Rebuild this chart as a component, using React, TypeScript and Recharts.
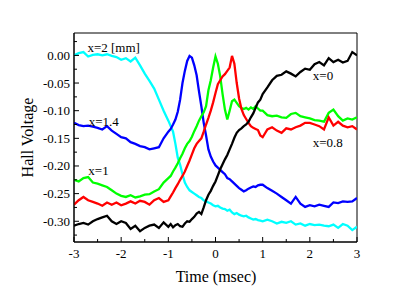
import React from 'react';
import { LineChart, Line, XAxis, YAxis, ReferenceArea, ReferenceDot } from 'recharts';

const FONT = 'Liberation Serif, Times New Roman, serif';

const times = [
  -3.0, -2.9, -2.8, -2.7, -2.6, -2.5, -2.4, -2.3, -2.2, -2.1,
  -2.0, -1.9, -1.8, -1.7, -1.6, -1.5, -1.4, -1.3, -1.2, -1.1,
  -1.0, -0.95, -0.9, -0.85, -0.8, -0.75, -0.7, -0.65, -0.6, -0.55,
  -0.5, -0.45, -0.4, -0.35, -0.3, -0.25, -0.2, -0.15, -0.1, -0.05,
  0.0, 0.05, 0.1, 0.15, 0.2, 0.25, 0.3, 0.35, 0.4, 0.45,
  0.5, 0.55, 0.6, 0.65, 0.7, 0.75, 0.8, 0.85, 0.9, 0.95,
  1.0, 1.1, 1.2, 1.3, 1.4, 1.5, 1.6, 1.7, 1.8, 1.9,
  2.0, 2.1, 2.2, 2.3, 2.4, 2.5, 2.6, 2.7, 2.8, 2.9, 3.0,
];

// x = 2 [mm]
const cyan = [
  0.000, 0.004, 0.006, -0.002, 0.001, 0.002, 0.000, 0.002, -0.001, -0.003,
  -0.008, -0.005, -0.011, -0.004, -0.018, -0.033, -0.046, -0.060, -0.080, -0.100,
  -0.118, -0.128, -0.138, -0.160, -0.185, -0.198, -0.215, -0.230, -0.238, -0.244,
  -0.247, -0.250, -0.253, -0.256, -0.258, -0.262, -0.264, -0.266, -0.268, -0.271,
  -0.273, -0.272, -0.275, -0.277, -0.278, -0.281, -0.279, -0.284, -0.287, -0.285,
  -0.288, -0.290, -0.291, -0.290, -0.293, -0.295, -0.297, -0.296, -0.298, -0.299,
  -0.300, -0.297, -0.300, -0.304, -0.301, -0.303, -0.300, -0.306, -0.304, -0.308,
  -0.305, -0.307, -0.306, -0.308, -0.309, -0.306, -0.312, -0.305, -0.308, -0.316, -0.310,
];

// x = 1.4
const blue = [
  -0.122, -0.126, -0.128, -0.127, -0.129, -0.131, -0.134, -0.128, -0.136, -0.142,
  -0.148, -0.150, -0.157, -0.160, -0.164, -0.166, -0.170, -0.168, -0.166, -0.150,
  -0.138, -0.133, -0.125, -0.116, -0.102, -0.080, -0.050, -0.028, -0.010, -0.001,
  -0.004, -0.018, -0.036, -0.065, -0.092, -0.122, -0.145, -0.170, -0.183, -0.192,
  -0.199, -0.203, -0.207, -0.211, -0.215, -0.222, -0.224, -0.228, -0.232, -0.236,
  -0.240, -0.243, -0.246, -0.244, -0.241, -0.239, -0.237, -0.238, -0.235, -0.234,
  -0.234, -0.240, -0.245, -0.250, -0.256, -0.262, -0.268, -0.256, -0.268, -0.274,
  -0.271, -0.273, -0.270, -0.272, -0.274, -0.266, -0.267, -0.264, -0.265, -0.264, -0.258,
];

// x = 1
const green = [
  -0.225, -0.228, -0.222, -0.220, -0.230, -0.232, -0.235, -0.238, -0.244, -0.250,
  -0.254, -0.256, -0.253, -0.257, -0.255, -0.252, -0.251, -0.246, -0.242, -0.230,
  -0.222, -0.218, -0.210, -0.203, -0.195, -0.186, -0.178, -0.168, -0.160, -0.155,
  -0.147, -0.137, -0.128, -0.118, -0.110, -0.103, -0.092, -0.063, -0.045, -0.022,
  -0.002, -0.015, -0.038, -0.070, -0.098, -0.116, -0.100, -0.083, -0.080, -0.086,
  -0.092, -0.095, -0.097, -0.095, -0.098, -0.094, -0.097, -0.092, -0.096, -0.100,
  -0.100, -0.108, -0.110, -0.109, -0.112, -0.113, -0.106, -0.104, -0.110, -0.112,
  -0.114, -0.117, -0.118, -0.120, -0.104, -0.098, -0.110, -0.118, -0.114, -0.116, -0.112,
];

// x = 0.8
const red = [
  -0.270, -0.262, -0.256, -0.262, -0.265, -0.268, -0.272, -0.266, -0.270, -0.266,
  -0.271, -0.268, -0.264, -0.268, -0.263, -0.265, -0.270, -0.262, -0.258, -0.265,
  -0.262, -0.255, -0.248, -0.240, -0.233, -0.225, -0.218, -0.210, -0.200, -0.190,
  -0.179, -0.168, -0.160, -0.155, -0.150, -0.138, -0.125, -0.113, -0.100, -0.085,
  -0.068, -0.052, -0.045, -0.038, -0.034, -0.028, -0.022, -0.001, -0.015, -0.050,
  -0.078, -0.097, -0.108, -0.115, -0.122, -0.128, -0.131, -0.133, -0.135, -0.145,
  -0.148, -0.134, -0.130, -0.136, -0.140, -0.132, -0.134, -0.130, -0.127, -0.122,
  -0.122, -0.125, -0.128, -0.134, -0.112, -0.127, -0.120, -0.127, -0.130, -0.128, -0.134,
];

// x = 0
const black = [
  -0.308, -0.305, -0.303, -0.306, -0.300, -0.296, -0.293, -0.290, -0.300, -0.305,
  -0.300, -0.303, -0.314, -0.308, -0.318, -0.312, -0.308, -0.306, -0.312, -0.302,
  -0.310, -0.305, -0.311, -0.307, -0.305, -0.309, -0.310, -0.304, -0.300, -0.301,
  -0.296, -0.292, -0.286, -0.283, -0.287, -0.275, -0.262, -0.252, -0.245, -0.236,
  -0.228, -0.217, -0.206, -0.197, -0.188, -0.180, -0.170, -0.160, -0.149, -0.140,
  -0.135, -0.132, -0.128, -0.125, -0.120, -0.112, -0.105, -0.095, -0.085, -0.080,
  -0.070, -0.058, -0.045, -0.037, -0.035, -0.029, -0.033, -0.038, -0.030, -0.024,
  -0.026, -0.016, -0.012, -0.018, -0.005, -0.012, -0.008, -0.013, -0.010, 0.006, 0.000,
];

const xMajorTicks = [-3, -2, -1, 0, 1, 2, 3];
const xTickLabels = ['-3', '-2', '-1', '0', '1', '2', '3'];
const xMinorTicks = [-2.5, -1.5, -0.5, 0.5, 1.5, 2.5];

const yMajorTicks = [0, -0.05, -0.1, -0.15, -0.2, -0.25, -0.3];
const yTickLabels = ['0.00', '-0.05', '-0.10', '-0.15', '-0.20', '-0.25', '-0.30'];
const yMinorTicks = [0.025, -0.025, -0.075, -0.125, -0.175, -0.225, -0.275, -0.325];

const seriesNames = ['x=2 [mm]', 'x=1.4', 'x=1', 'x=0.8', 'x=0'];

const X_DOMAIN: [number, number] = [-3, 3];
const Y_DOMAIN: [number, number] = [-0.3375, 0.0405];

const data = times.map((t, i) => ({
  t,
  c: cyan[i],
  b: blue[i],
  g: green[i],
  r: red[i],
  k: black[i],
}));

const findIdx = (arr: number[], v: number) => arr.findIndex((m) => Math.abs(m - v) < 1e-6);

const XTick = (props: any) => {
  const { x, y, payload } = props;
  const idx = findIdx(xMajorTicks, payload.value);
  const major = idx >= 0;
  return (
    <g>
      <line x1={x} y1={y} x2={x} y2={y - (major ? 5 : 3)} stroke="#000" strokeWidth={1} />
      {major && (
        <text x={x} y={y + 16} textAnchor="middle" fontSize={13} style={{ fontFamily: FONT }} fill="#000">
          {xTickLabels[idx]}
        </text>
      )}
    </g>
  );
};

const YTick = (props: any) => {
  const { x, y, payload } = props;
  const idx = findIdx(yMajorTicks, payload.value);
  const major = idx >= 0;
  return (
    <g>
      <line x1={x} y1={y} x2={x + (major ? 5 : 3)} y2={y} stroke="#000" strokeWidth={1} />
      {major && (
        <text x={x - 4} y={y + 4.5} textAnchor="end" fontSize={13} style={{ fontFamily: FONT }} fill="#000">
          {yTickLabels[idx]}
        </text>
      )}
    </g>
  );
};

const TextMark = (label: string) => (p: any) => (
  <text x={p.cx} y={p.cy + 4.6} textAnchor="middle" fontSize={13} style={{ fontFamily: FONT }} fill="#000">
    {label}
  </text>
);

const LW = 2.3;

export default function App() {
  return (
    <div style={{ position: 'absolute', left: 0, top: 0, width: 415, height: 291, background: '#fff' }}>
      <LineChart width={415} height={291} data={data} margin={{ top: 33, right: 58, bottom: 0, left: 0 }}>
        <XAxis
          dataKey="t"
          type="number"
          domain={X_DOMAIN}
          ticks={[...xMajorTicks, ...xMinorTicks]}
          interval={0}
          tickSize={0}
          tickMargin={0}
          tickLine={false}
          tick={XTick}
          height={49}
          axisLine={{ stroke: '#000', strokeWidth: 1 }}
          allowDataOverflow
          label={{
            content: () => (
              <text x={216} y={282} textAnchor="middle" fontSize={16} style={{ fontFamily: FONT }} fill="#000">
                Time (msec)
              </text>
            ),
          }}
        />
        <YAxis
          type="number"
          domain={Y_DOMAIN}
          ticks={[...yMajorTicks, ...yMinorTicks]}
          interval={0}
          tickSize={0}
          tickMargin={0}
          tickLine={false}
          tick={YTick}
          width={74}
          axisLine={{ stroke: '#000', strokeWidth: 1 }}
          allowDataOverflow
          label={{
            content: () => (
              <text
                x={33}
                y={137.5}
                transform="rotate(-90 33 137.5)"
                textAnchor="middle"
                fontSize={16}
                style={{ fontFamily: FONT }}
                fill="#000"
              >
                Hall Voltage
              </text>
            ),
          }}
        />
        <ReferenceArea
          x1={X_DOMAIN[0]}
          x2={X_DOMAIN[1]}
          y1={Y_DOMAIN[0]}
          y2={Y_DOMAIN[1]}
          fill="none"
          stroke="#000"
          strokeWidth={1}
          ifOverflow="extendDomain"
        />
        <Line type="linear" dataKey="c" stroke="#00FFFF" strokeWidth={LW} dot={false} isAnimationActive={false} />
        <Line type="linear" dataKey="b" stroke="#0000FF" strokeWidth={LW} dot={false} isAnimationActive={false} />
        <Line type="linear" dataKey="g" stroke="#00FF00" strokeWidth={LW} dot={false} isAnimationActive={false} />
        <Line type="linear" dataKey="r" stroke="#FF0000" strokeWidth={LW} dot={false} isAnimationActive={false} />
        <Line type="linear" dataKey="k" stroke="#000000" strokeWidth={LW} dot={false} isAnimationActive={false} />
        <ReferenceDot x={-2.16} y={0.015} r={1} shape={TextMark(seriesNames[0])} />
        <ReferenceDot x={-2.37} y={-0.119} r={1} shape={TextMark(seriesNames[1])} />
        <ReferenceDot x={-2.48} y={-0.208} r={1} shape={TextMark(seriesNames[2])} />
        <ReferenceDot x={2.38} y={-0.158} r={1} shape={TextMark(seriesNames[3])} />
        <ReferenceDot x={2.28} y={-0.036} r={1} shape={TextMark(seriesNames[4])} />
      </LineChart>
    </div>
  );
}
